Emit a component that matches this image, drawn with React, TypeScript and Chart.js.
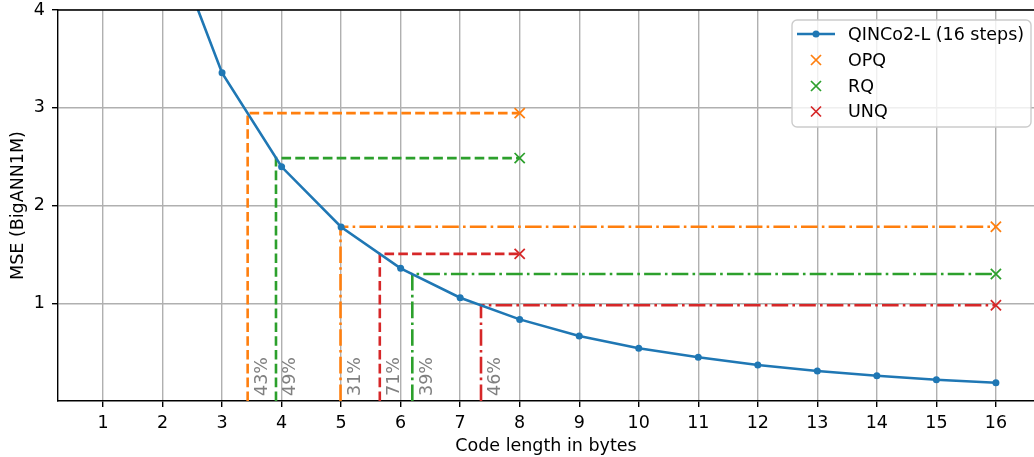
import React, { useEffect, useRef } from "react";
import { Chart, registerables } from "chart.js";

Chart.register(...registerables);

// ---- data ----
const xTickValues = [1, 2, 3, 4, 5, 6, 7, 8, 9, 10, 11, 12, 13, 14, 15, 16];
const yTickValues = [1, 2, 3, 4];
const codeLengths = [2, 3, 4, 5, 6, 7, 8, 9, 10, 11, 12, 13, 14, 15, 16];
const qincoMse = [4.95, 3.357, 2.396, 1.78, 1.357, 1.056, 0.835, 0.665, 0.539, 0.447, 0.368, 0.307, 0.259, 0.218, 0.187];

const baselineNames = ["OPQ", "RQ", "UNQ"];
const baselineColors = ["#ff7f0e", "#2ca02c", "#d62728"];
const baselineMse8 = [2.945, 2.485, 1.505]; // at 8 bytes
const baselineMse16 = [1.783, 1.299, 0.98]; // at 16 bytes
const matchX8 = [3.43, 3.906, 5.65]; // where QINCo2-L reaches baseline@8
const matchX16 = [4.99, 6.196, 7.35]; // where QINCo2-L reaches baseline@16
const pct8 = ["43%", "49%", "71%"];
const pct16 = ["31%", "39%", "46%"];

const FONT = "'DejaVu Sans', sans-serif";
const FS = 17.5;
const LW = 2.6;

export default function App() {
  const ref = useRef<HTMLCanvasElement | null>(null);
  useEffect(() => {
    const canvas = ref.current!;
    const datasets: any[] = [];
    datasets.push({
      label: "QINCo2-L (16 steps)",
      data: codeLengths.map((x, i) => ({ x, y: qincoMse[i] })),
      borderColor: "#1f77b4",
      backgroundColor: "#1f77b4",
      borderWidth: LW,
      pointRadius: 3.5,
      pointBorderWidth: 0,
      pointBackgroundColor: "#1f77b4",
      showLine: true,
      order: 0,
    });
    baselineNames.forEach((n, i) => {
      datasets.push({
        label: n + " guide 8",
        data: [
          { x: matchX8[i], y: 0 },
          { x: matchX8[i], y: baselineMse8[i] },
          { x: 8, y: baselineMse8[i] },
        ],
        borderColor: baselineColors[i],
        borderWidth: LW,
        borderDash: [9.6, 4.2],
        pointRadius: 0,
        showLine: true,
        order: 1,
      });
      datasets.push({
        label: n + " guide 16",
        data: [
          { x: matchX16[i], y: 0 },
          { x: matchX16[i], y: baselineMse16[i] },
          { x: 16, y: baselineMse16[i] },
        ],
        borderColor: baselineColors[i],
        borderWidth: LW,
        borderDash: [16.6, 4.2, 2.6, 4.2],
        pointRadius: 0,
        showLine: true,
        order: 1,
      });
      datasets.push({
        label: n,
        data: [
          { x: 8, y: baselineMse8[i] },
          { x: 16, y: baselineMse16[i] },
        ],
        borderColor: baselineColors[i],
        backgroundColor: baselineColors[i],
        pointStyle: "crossRot",
        pointRadius: 7.2,
        pointBorderWidth: 1.75,
        showLine: false,
        order: 0,
      });
    });

    const pctLabels: { x: number; text: string }[] = [];
    baselineNames.forEach((_, i) => {
      pctLabels.push({ x: matchX8[i], text: pct8[i] });
      pctLabels.push({ x: matchX16[i], text: pct16[i] });
    });

    const extras = {
      id: "extras",
      afterDatasetsDraw(chart: any) {
        const ctx = chart.ctx;
        const xs = chart.scales.x;
        const ys = chart.scales.y;
        const ca = chart.chartArea;
        ctx.save();
        // percent labels
        ctx.fillStyle = "#808080";
        ctx.font = `${FS}px ${FONT}`;
        ctx.textAlign = "left";
        ctx.textBaseline = "alphabetic";
        pctLabels.forEach((p) => {
          const px = xs.getPixelForValue(p.x);
          ctx.save();
          ctx.translate(px + 19.4, ys.getPixelForValue(0) - 5);
          ctx.rotate(-Math.PI / 2);
          ctx.fillText(p.text, 0, 0);
          ctx.restore();
        });
        // top spine
        ctx.strokeStyle = "#000";
        ctx.lineWidth = 1.4;
        ctx.beginPath();
        ctx.moveTo(ca.left - 0.7, ca.top);
        ctx.lineTo(ca.right + 2, ca.top);
        ctx.stroke();
        // legend
        const bx = 792, by = 20, bw = 239, bh = 107;
        ctx.fillStyle = "rgba(255,255,255,0.8)";
        ctx.strokeStyle = "#cccccc";
        ctx.lineWidth = 1.4;
        ctx.beginPath();
        ctx.roundRect(bx, by, bw, bh, 5);
        ctx.fill();
        ctx.stroke();
        const rowY = [34, 60, 86, 111.5];
        const hx = 816;
        const tx = 848;
        ctx.font = `${FS}px ${FONT}`;
        ctx.textBaseline = "middle";
        ctx.textAlign = "left";
        // row 0
        ctx.strokeStyle = "#1f77b4";
        ctx.lineWidth = LW;
        ctx.beginPath();
        ctx.moveTo(797, rowY[0]);
        ctx.lineTo(835, rowY[0]);
        ctx.stroke();
        ctx.fillStyle = "#1f77b4";
        ctx.beginPath();
        ctx.arc(hx, rowY[0], 3.5, 0, Math.PI * 2);
        ctx.fill();
        ctx.fillStyle = "#000";
        ctx.fillText("QINCo2-L (16 steps)", tx, rowY[0] + 1);
        baselineNames.forEach((n, i) => {
          const y = rowY[i + 1];
          ctx.strokeStyle = baselineColors[i];
          ctx.lineWidth = 1.75;
          ctx.beginPath();
          ctx.moveTo(hx - 5, y - 5);
          ctx.lineTo(hx + 5, y + 5);
          ctx.moveTo(hx - 5, y + 5);
          ctx.lineTo(hx + 5, y - 5);
          ctx.stroke();
          ctx.fillStyle = "#000";
          ctx.fillText(n, tx, y + 1);
        });
        ctx.restore();
      },
    };

    const chart = new Chart(canvas, {
      type: "scatter",
      data: { datasets },
      plugins: [extras],
      options: {
        responsive: false,
        animation: false,
        devicePixelRatio: 1,
        layout: { autoPadding: false, padding: { top: 10, right: 0, left: 0, bottom: 0 } },
        plugins: { legend: { display: false }, tooltip: { enabled: false } },
        scales: {
          x: {
            type: "linear",
            min: 0.244,
            max: 16.64,
            afterBuildTicks: (axis: any) => {
              axis.ticks = xTickValues.map((v) => ({ value: v }));
            },
            afterFit: (axis: any) => {
              axis.height = 56;
              axis.paddingLeft = 0;
              axis.paddingRight = 0;
              axis.paddingTop = 0;
              axis.paddingBottom = 0;
            },
            grid: { color: "#b0b0b0", lineWidth: 1.4, tickColor: "#000", tickLength: 6, drawTicks: true, tickWidth: 1.4 },
            border: { color: "#000", width: 1.4 },
            ticks: { color: "#000", font: { family: FONT, size: FS, lineHeight: 1.2 }, padding: 6, autoSkip: false, maxRotation: 0 },
            title: { display: true, text: "Code length in bytes", color: "#000", font: { family: FONT, size: FS }, padding: { top: 0, bottom: 0 } },
          },
          y: {
            type: "linear",
            min: 0,
            max: 4,
            afterBuildTicks: (axis: any) => {
              axis.ticks = yTickValues.map((v) => ({ value: v }));
            },
            afterFit: (axis: any) => {
              axis.width = 58;
              axis.paddingLeft = 0;
              axis.paddingRight = 0;
              axis.paddingTop = 0;
              axis.paddingBottom = 0;
            },
            grid: { color: "#b0b0b0", lineWidth: 1.4, tickColor: "#000", tickLength: 6, drawTicks: true, tickWidth: 1.4 },
            border: { color: "#000", width: 1.4 },
            ticks: { color: "#000", font: { family: FONT, size: FS, lineHeight: 1.2 }, padding: 7 },
            title: { display: true, text: "MSE (BigANN1M)", color: "#000", font: { family: FONT, size: FS }, padding: { top: 8, bottom: 0 } },
          },
        },
      },
    });
    return () => chart.destroy();
  }, []);

  return (
    <div style={{ position: "absolute", left: 0, top: 0, width: 1034, height: 457, overflow: "hidden", background: "#fff" }}>
      <canvas ref={ref} width={1034} height={457} style={{ display: "block", width: 1034, height: 457 }} />
    </div>
  );
}
